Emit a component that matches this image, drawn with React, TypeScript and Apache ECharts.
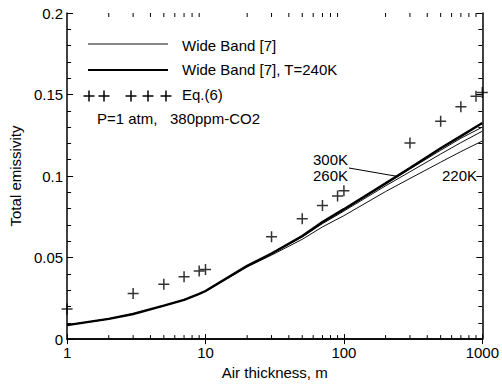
import React, { useEffect, useRef } from "react";
import * as echarts from "echarts";

const thickness = [1, 2, 3, 5, 7, 9, 10, 20, 30, 50, 70, 100, 200, 300, 500, 700, 1000];
const wb240 = [0.0086, 0.0124, 0.0154, 0.0205, 0.024, 0.0277, 0.0295, 0.0449, 0.0525, 0.0632, 0.0718, 0.0797, 0.0955, 0.105, 0.117, 0.1245, 0.1325];
const wb300 = [0.0086, 0.0124, 0.0154, 0.0205, 0.024, 0.0277, 0.0295, 0.0449, 0.0524, 0.063, 0.0714, 0.0793, 0.0952, 0.1043, 0.1158, 0.1232, 0.1300];
const wb260 = [0.0086, 0.0124, 0.0154, 0.0205, 0.024, 0.0277, 0.0295, 0.0448, 0.0522, 0.0626, 0.0708, 0.0785, 0.094, 0.1026, 0.1135, 0.1205, 0.1275];
const wb220 = [0.0086, 0.0124, 0.0154, 0.0205, 0.024, 0.0276, 0.0293, 0.0443, 0.0515, 0.0612, 0.0688, 0.0757, 0.0905, 0.0985, 0.1085, 0.115, 0.1215];

const eqX = [1, 3, 5, 7, 9, 10, 30, 50, 70, 90, 100, 300, 500, 700, 900, 1000];
const eqY = [0.0185, 0.028, 0.0336, 0.0383, 0.0418, 0.0427, 0.0628, 0.0738, 0.0819, 0.0877, 0.091, 0.1202, 0.1336, 0.1425, 0.149, 0.1512];

const minorX = [2, 3, 4, 5, 6, 7, 8, 9, 20, 30, 40, 50, 60, 70, 80, 90, 200, 300, 400, 500, 600, 700, 800, 900];

const FONT = "Liberation Sans, Arial, sans-serif";
const FS = 15;
const PLUS = "path://M0,5L10,5M5,0L5,10";

function zip(xs: number[], ys: number[]) {
  return xs.map((x, i) => [x, ys[i]]);
}

function plusAt(x: number, y: number) {
  return [
    { type: "line", shape: { x1: x - 5.5, y1: y, x2: x + 5.5, y2: y }, style: { stroke: "#000", lineWidth: 1.5 } },
    { type: "line", shape: { x1: x, y1: y - 5.5, x2: x, y2: y + 5.5 }, style: { stroke: "#000", lineWidth: 1.5 } },
  ];
}

function label(text: string, left: number, top: number) {
  return { type: "text", left, top, style: { text, font: `${FS}px ${FONT}`, fill: "#000" } };
}

export default function App() {
  const ref = useRef<HTMLDivElement>(null);
  useEffect(() => {
    if (!ref.current) return;
    const chart = echarts.init(ref.current, null, { renderer: "svg" });
    const tickStyle = { color: "#000", width: 1 };
    const option: any = {
      animation: false,
      backgroundColor: "#fff",
      textStyle: { fontFamily: FONT },
      grid: { left: 64, top: 13, width: 420, height: 329, containLabel: false },
      xAxis: [
        {
          type: "log",
          logBase: 10,
          min: 1,
          max: 1000,
          name: "Air thickness, m",
          nameLocation: "middle",
          nameGap: 23,
          nameTextStyle: { fontSize: FS, color: "#000", fontFamily: FONT },
          axisLine: { lineStyle: { color: "#000", width: 1.5 } },
          axisTick: { inside: true, length: 5, lineStyle: tickStyle },
          axisLabel: { fontSize: FS, color: "#000", margin: 6, fontFamily: FONT, formatter: (v: number) => String(v) },
          splitLine: { show: false },
          minorTick: { show: false },
        },
        {
          type: "log",
          logBase: 10,
          min: 1,
          max: 1000,
          position: "top",
          axisLine: { lineStyle: { color: "#000", width: 1.5 } },
          axisTick: { inside: true, length: 5, lineStyle: tickStyle },
          axisLabel: { show: false },
          splitLine: { show: false },
        },
      ],
      yAxis: [
        {
          type: "value",
          min: 0,
          max: 0.2,
          interval: 0.05,
          name: "Total emissivity",
          nameLocation: "middle",
          nameGap: 40,
          nameTextStyle: { fontSize: FS, color: "#000", fontFamily: FONT },
          axisLine: { show: true, lineStyle: { color: "#000", width: 1.5 } },
          axisTick: { show: true, inside: true, length: 6, lineStyle: tickStyle },
          minorTick: { show: true, splitNumber: 5, length: 4, lineStyle: tickStyle },
          axisLabel: { fontSize: FS, color: "#000", margin: 4, fontFamily: FONT },
          splitLine: { show: false },
        },
        {
          type: "value",
          min: 0,
          max: 0.2,
          interval: 0.05,
          position: "right",
          axisLine: { show: true, lineStyle: { color: "#000", width: 1.5 } },
          axisTick: { show: true, inside: true, length: 6, lineStyle: tickStyle },
          minorTick: { show: true, splitNumber: 5, length: 4, lineStyle: tickStyle },
          axisLabel: { show: false },
          splitLine: { show: false },
        },
      ],
      series: [
        { type: "line", data: zip(thickness, wb300), showSymbol: false, lineStyle: { color: "#111", width: 1 } },
        { type: "line", data: zip(thickness, wb260), showSymbol: false, lineStyle: { color: "#111", width: 1 } },
        { type: "line", data: zip(thickness, wb220), showSymbol: false, lineStyle: { color: "#111", width: 1 } },
        { type: "line", data: zip(thickness, wb240), showSymbol: false, lineStyle: { color: "#000", width: 2.4 } },
        {
          type: "scatter",
          data: zip(eqX, eqY),
          symbol: PLUS,
          symbolSize: 11,
          clip: false,
          itemStyle: { color: "none", borderColor: "#000", borderWidth: 1.5 },
        },
        {
          type: "custom",
          data: minorX.map((v) => [v, 0]),
          encode: { x: 0, y: 1 },
          clip: false,
          silent: true,
          renderItem: (params: any, api: any) => {
            const v = api.value(0);
            const b = api.coord([v, 0]);
            const t = api.coord([v, 0.2]);
            return {
              type: "group",
              children: [
                { type: "line", shape: { x1: b[0], y1: b[1], x2: b[0], y2: b[1] - 4 }, style: { stroke: "#000", lineWidth: 1 } },
                { type: "line", shape: { x1: t[0], y1: t[1], x2: t[0], y2: t[1] + 4 }, style: { stroke: "#000", lineWidth: 1 } },
              ],
            };
          },
        },
      ],
      graphic: [
        { type: "line", shape: { x1: 88, y1: 44, x2: 168, y2: 44 }, style: { stroke: "#111", lineWidth: 1 } },
        label("Wide Band [7]", 182, 38),
        { type: "line", shape: { x1: 88, y1: 70, x2: 168, y2: 70 }, style: { stroke: "#000", lineWidth: 2 } },
        label("Wide Band [7], T=240K", 182, 62),
        ...plusAt(89, 96),
        ...plusAt(104, 96),
        ...plusAt(131, 96),
        ...plusAt(148, 96),
        ...plusAt(166, 96),
        label("Eq.(6)", 182, 87),
        label("P=1 atm,   380ppm-CO2", 97, 111),
        label("300K", 313, 152),
        label("260K", 313, 168),
        label("220K", 442, 168),
        { type: "line", shape: { x1: 349, y1: 168, x2: 398, y2: 176.5 }, style: { stroke: "#000", lineWidth: 1 } },
      ],
    };
    chart.setOption(option);
    return () => chart.dispose();
  }, []);
  return (
    <div
      ref={ref}
      style={{ position: "fixed", left: 0, top: 0, width: 502, height: 385, background: "#fff" }}
    />
  );
}
